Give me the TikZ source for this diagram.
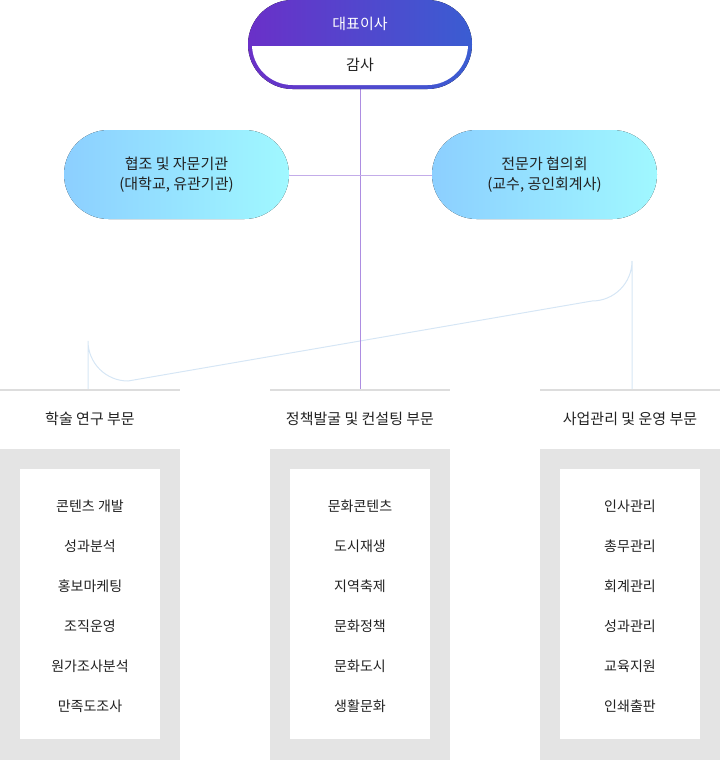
\documentclass[tikz,border=0pt]{standalone}
\usepackage{fontspec}
\setmainfont{Noto Sans CJK KR}
\usetikzlibrary{positioning}
\definecolor{ceopurple}{HTML}{6A30C8}
\definecolor{ceoblue}{HTML}{3A5DD2}
\definecolor{advblue}{HTML}{8CCFFF}
\definecolor{advcyan}{HTML}{A0F8FF}
\definecolor{linkblue}{HTML}{D6E6F5}
\definecolor{deptgray}{HTML}{E4E4E4}
\definecolor{deptline}{HTML}{DDDDDD}
\definecolor{deptext}{HTML}{222222}
\tikzset{
  x=1pt, y=-1pt,
  advbox/.style={rounded corners=44.5pt, left color=advblue, right color=advcyan, draw=none},
  advtext/.style={text=deptext, font=\fontsize{15}{20}\selectfont, align=center},
  depttitle/.style={text=deptext, font=\fontsize{15}{18}\selectfont},
  item/.style={text=deptext, font=\fontsize{14}{17}\selectfont},
}
\begin{document}
\begin{tikzpicture}
\useasboundingbox (0,0) rectangle (720,760);
% connectors
\coordinate (top) at (360,88);
\coordinate (busL) at (88,389);
\coordinate (busR) at (632,389);
\coordinate (busM) at (360,389);
\draw[linkblue, line width=1pt] (busL) -- (88,341) arc[start angle=180, end angle=90, radius=40] -- (592,301) arc[start angle=90, end angle=0, radius=40] -- (busR);
\draw[ceopurple!55, line width=1pt] (top) -- (busM);
% advisory groups
\fill[advbox] (64,130) rectangle (289,219);
\fill[advbox] (432,130) rectangle (657,219);
\node[advtext] (coop) at (176.5,174.5) {협조 및 자문기관\\(대학교, 유관기관)};
\node[advtext] (expert) at (544.5,174.5) {전문가 협의회\\(교수, 공인회계사)};
\draw[ceopurple!40, line width=0.8pt] (289,175) -- (432,175);
% ceo
\fill[rounded corners=44.5pt, left color=ceopurple, right color=ceoblue] (248,0) rectangle (472,89);
\begin{scope}
\clip[rounded corners=40.5pt] (252,4) rectangle (468,85);
\fill[white] (240,46) rectangle (480,90);
\end{scope}
\node[text=white, font=\fontsize{15}{18}\selectfont] (ceo) at (360,24) {대표이사};
\node[text=deptext, font=\fontsize{15}{18}\selectfont] (audit) at (360,65) {감사};
% departments
\foreach \x/\title/\a/\b/\c/\d/\e/\f in {
  0/학술 연구 부문/콘텐츠 개발/성과분석/홍보마케팅/조직운영/원가조사분석/만족도조사,
  270/정책발굴 및 컨설팅 부문/문화콘텐츠/도시재생/지역축제/문화정책/문화도시/생활문화,
  540/사업관리 및 운영 부문/인사관리/총무관리/회계관리/성과관리/교육지원/인쇄출판} {
  \fill[deptline] (\x,389) rectangle (\x+180,391);
  \node[depttitle] at (\x+90,419) {\title};
  \fill[deptgray] (\x,449) rectangle (\x+180,760);
  \fill[white] (\x+20,469) rectangle (\x+160,739);
  \foreach \t [count=\i] in {\a,\b,\c,\d,\e,\f}
    \node[item] at (\x+90,466+40*\i) {\t};
}
\end{tikzpicture}
\end{document}
